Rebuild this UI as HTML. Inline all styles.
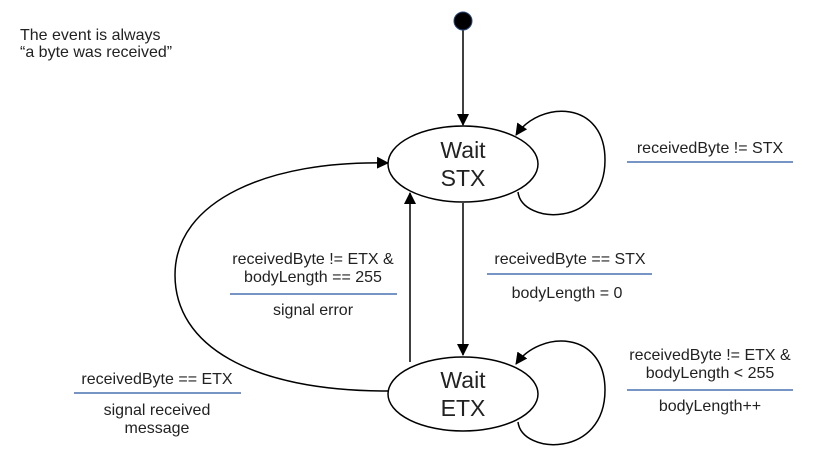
<!DOCTYPE html>
<html><head><meta charset="utf-8"><style>
html,body{margin:0;padding:0;background:#fff;}
svg{display:block;}
text{font-family:"Liberation Sans",sans-serif;fill:#222;}
</style></head><body>
<svg width="813" height="473" viewBox="0 0 813 473" xmlns="http://www.w3.org/2000/svg">
<defs>
<marker id="a" markerWidth="12" markerHeight="12" refX="11" refY="6" orient="auto" markerUnits="userSpaceOnUse">
<path d="M0,0 L12,6 L0,12 z" fill="#000"/>
</marker>
</defs>
<g fill="none" stroke="#000" stroke-width="1.5">
<line x1="463" y1="30" x2="463" y2="125" marker-end="url(#a)"/>
<line x1="463" y1="203" x2="463" y2="355" marker-end="url(#a)"/>
<line x1="410" y1="362" x2="410" y2="193" marker-end="url(#a)"/>
<path d="M518,192 C522,225 605,228 605,160 C605,100 540,100 516,135" marker-end="url(#a)"/>
<path d="M518,422 C522,455 605,458 605,390 C605,330 540,330 516,364" marker-end="url(#a)"/>
<path d="M388,391 C250,391 175,345 175,275 C175,200 270,160 388,163" marker-end="url(#a)"/>
<ellipse cx="463" cy="164" rx="75" ry="38" fill="#fff"/>
<ellipse cx="463" cy="394" rx="75" ry="37" fill="#fff"/>
</g>
<circle cx="463" cy="21" r="9" fill="#000" stroke="#2a4a7a" stroke-width="1"/>
<text x="463" y="158" font-size="23" text-anchor="middle">Wait</text>
<text x="463" y="186" font-size="23" text-anchor="middle">STX</text>
<text x="463" y="388" font-size="23" text-anchor="middle">Wait</text>
<text x="463" y="416" font-size="23" text-anchor="middle">ETX</text>
<text x="20" y="40" font-size="16">The event is always</text>
<text x="20" y="57" font-size="16">“a byte was received”</text>
<g font-size="16" text-anchor="middle">
<text x="710" y="153">receivedByte != STX</text>
<text x="570" y="264">receivedByte == STX</text>
<text x="567" y="298">bodyLength = 0</text>
<text x="313" y="264">receivedByte != ETX &amp;</text>
<text x="313" y="282">bodyLength == 255</text>
<text x="313" y="315">signal error</text>
<text x="157" y="384">receivedByte == ETX</text>
<text x="157" y="415">signal received</text>
<text x="157" y="433">message</text>
<text x="710" y="360">receivedByte != ETX &amp;</text>
<text x="710" y="378">bodyLength &lt; 255</text>
<text x="710" y="411">bodyLength++</text>
</g>
<g stroke="#4a72b0" stroke-width="1.5">
<line x1="627" y1="162" x2="793" y2="162"/>
<line x1="487" y1="274" x2="652" y2="274"/>
<line x1="230" y1="294" x2="397" y2="294"/>
<line x1="74" y1="393" x2="241" y2="393"/>
<line x1="627" y1="390" x2="793" y2="390"/>
</g>
</svg>
</body></html>
